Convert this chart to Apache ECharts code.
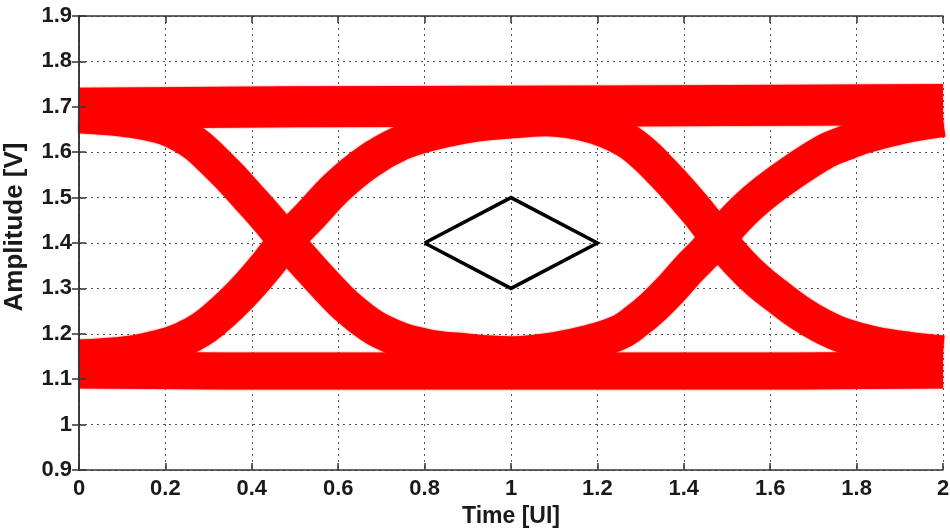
<!DOCTYPE html>
<html>
<head>
<meta charset="utf-8">
<title>Eye diagram</title>
<script src="https://cdn.jsdelivr.net/npm/echarts@6/dist/echarts.min.js"></script>
<style>
  html, body { margin: 0; padding: 0; background: #fff; }
  #main { width: 950px; height: 529px; }
</style>
</head>
<body>
<div id="main"></div>
<script>
// axis ticks
var timeTicks = [0, 0.2, 0.4, 0.6, 0.8, 1, 1.2, 1.4, 1.6, 1.8, 2];
var ampTicks = [0.9, 1, 1.1, 1.2, 1.3, 1.4, 1.5, 1.6, 1.7, 1.8, 1.9];

// trace centres [time UI, amplitude V]
var highLevel = [[0, 1.697], [0.5, 1.700], [1.0, 1.701], [1.5, 1.703], [2.0, 1.705]];
var lowLevel = [[0, 1.120], [0.5, 1.118], [1.0, 1.118], [1.5, 1.118], [2.0, 1.120]];

// first crossing, ~0.48 UI
var fall1 = [[0, 1.680], [0.1, 1.673], [0.16, 1.664], [0.2, 1.654], [0.24, 1.636], [0.275, 1.614],
  [0.31, 1.583], [0.35, 1.545], [0.39, 1.503], [0.435, 1.455], [0.479, 1.405], [0.53, 1.350],
  [0.578, 1.300], [0.626, 1.255], [0.7, 1.205], [0.8, 1.173], [0.9, 1.162], [1.0, 1.155],
  [1.1, 1.150], [1.2, 1.145]];
var rise1 = [[0, 1.149], [0.116, 1.157], [0.2, 1.174], [0.245, 1.190], [0.28, 1.208], [0.315, 1.233],
  [0.35, 1.263], [0.39, 1.302], [0.435, 1.352], [0.479, 1.405], [0.533, 1.458], [0.598, 1.524],
  [0.67, 1.580], [0.74, 1.618], [0.8, 1.638], [0.9, 1.659], [1.0, 1.669], [1.1, 1.676], [1.2, 1.684]];

// second crossing, ~1.48 UI
var fall2 = [[0.9, 1.685], [1.0, 1.680], [1.1, 1.673], [1.16, 1.665], [1.22, 1.648], [1.27, 1.624],
  [1.31, 1.594], [1.35, 1.556], [1.39, 1.515], [1.435, 1.465], [1.48, 1.410], [1.53, 1.355],
  [1.57, 1.318], [1.62, 1.280], [1.67, 1.245], [1.72, 1.217], [1.77, 1.196], [1.84, 1.178],
  [1.92, 1.166], [2.0, 1.158]];
var rise2 = [[0.9, 1.152], [1.0, 1.155], [1.1, 1.165], [1.18, 1.181], [1.25, 1.203], [1.29, 1.228],
  [1.33, 1.260], [1.37, 1.298], [1.412, 1.343], [1.445, 1.375], [1.48, 1.410], [1.525, 1.458],
  [1.575, 1.502], [1.65, 1.555], [1.728, 1.602], [1.768, 1.618], [1.82, 1.636], [1.9, 1.656],
  [2.0, 1.672]];

// eye mask
var eyeMask = [[0.8, 1.4], [1.0, 1.5], [1.2, 1.4], [1.0, 1.3], [0.8, 1.4]];

var myChart = echarts.init(document.getElementById('main'));

var font = 'Liberation Sans, Arial, sans-serif';
var lblFmt = function (v) { return String(+v.toFixed(1)); };

function band(data, width) {
  return {
    type: 'line',
    data: data,
    smooth: 0.4,
    symbol: 'none',
    silent: true,
    lineStyle: { color: '#ff0000', width: width, cap: 'butt', join: 'round',
      shadowBlur: 2, shadowColor: 'rgba(255,0,0,0.7)' },
    z: 2
  };
}

// box axes drawn above the traces, grid lines below
function boxX(pos, labels) {
  return {
    type: 'value', position: pos, min: timeTicks[0], max: timeTicks[timeTicks.length - 1],
    interval: 0.2, z: 5,
    axisLine: { show: true, lineStyle: { color: '#333', width: 1.5 } },
    axisTick: { show: true, inside: true, length: 7, lineStyle: { color: '#333', width: 1.5 } },
    axisLabel: { show: labels, margin: 8, color: '#1a1a1a', fontSize: 22, fontWeight: 'bold',
      fontFamily: font, formatter: lblFmt },
    splitLine: { show: false }
  };
}
function boxY(pos, labels) {
  return {
    type: 'value', position: pos, min: ampTicks[0], max: ampTicks[ampTicks.length - 1],
    interval: 0.1, z: 5,
    axisLine: { show: true, lineStyle: { color: '#333', width: 1.5 } },
    axisTick: { show: true, inside: true, length: 7, lineStyle: { color: '#333', width: 1.5 } },
    axisLabel: { show: labels, margin: 7, color: '#1a1a1a', fontSize: 22, fontWeight: 'bold',
      fontFamily: font, formatter: lblFmt },
    splitLine: { show: false }
  };
}

var xMain = boxX('bottom', true);
xMain.name = 'Time [UI]';
xMain.nameLocation = 'middle';
xMain.nameGap = 31;
xMain.nameTextStyle = { color: '#1a1a1a', fontSize: 23, fontWeight: 'bold', fontFamily: font };
var yMain = boxY('left', true);
yMain.name = 'Amplitude [V]';
yMain.nameLocation = 'middle';
yMain.nameGap = 51;
yMain.nameTextStyle = { color: '#1a1a1a', fontSize: 26, fontWeight: 'bold', fontFamily: font,
  padding: [0, 0, 0, 32] };

var gridLine = { show: true, lineStyle: { color: '#555', width: 1, type: [2, 4] } };

var option = {
  backgroundColor: '#fff',
  animation: false,
  grid: { left: 79, right: 7, top: 16, bottom: 59, outerBoundsMode: 'none' },
  xAxis: [
    xMain,
    boxX('top', false),
    { type: 'value', position: 'bottom', min: 0, max: 2, interval: 0.2, z: 0,
      axisLine: { show: false }, axisTick: { show: false }, axisLabel: { show: false },
      splitLine: gridLine }
  ],
  yAxis: [
    yMain,
    boxY('right', false),
    { type: 'value', position: 'left', min: 0.9, max: 1.9, interval: 0.1, z: 0,
      axisLine: { show: false }, axisTick: { show: false }, axisLabel: { show: false },
      splitLine: gridLine }
  ],
  series: [
    band(highLevel, 41),
    band(lowLevel, 37),
    band(fall1, 35),
    band(rise1, 35),
    band(fall2, 35),
    band(rise2, 35),
    {
      type: 'line',
      data: eyeMask,
      symbol: 'none',
      silent: true,
      lineStyle: { color: '#000', width: 3.5, join: 'miter' },
      z: 4
    }
  ]
};

myChart.setOption(option);
</script>
</body>
</html>
